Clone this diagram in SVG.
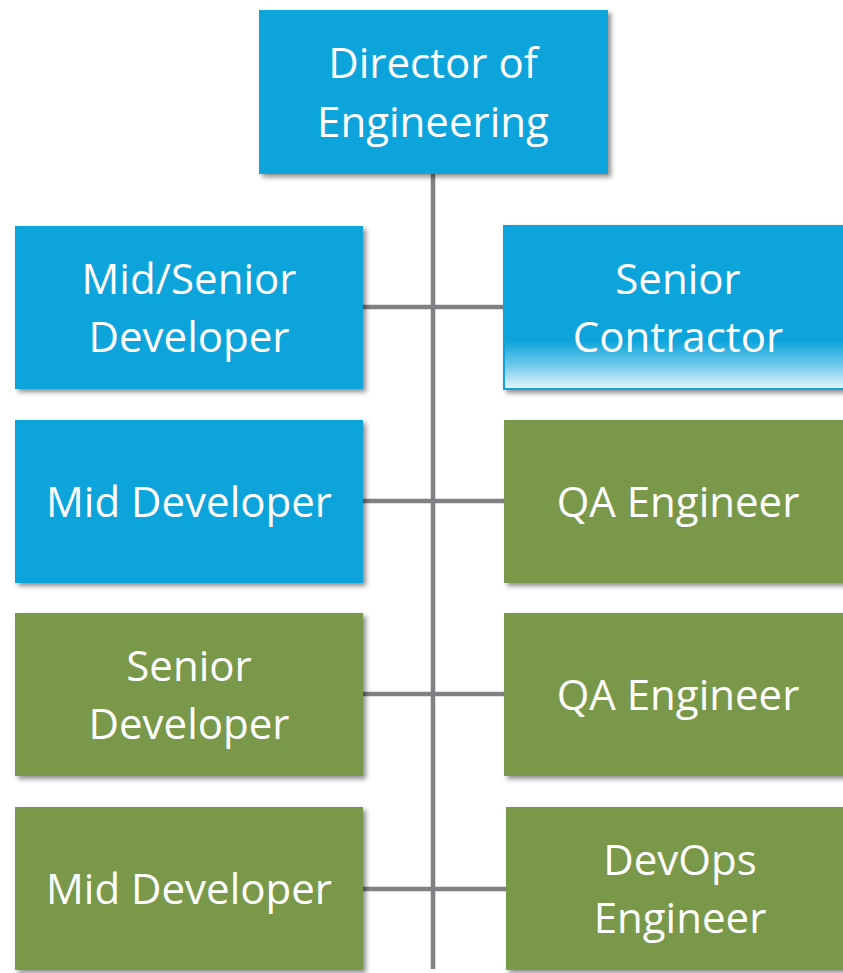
<svg xmlns="http://www.w3.org/2000/svg" width="843" height="973" viewBox="0 0 843 973">
  <style>
    .blue { fill: #0AA3DB; }
    .green { fill: #7A9849; }
    .box { filter: url(#shadow); }
    .label { font-family: "Open Sans", "Noto Sans", sans-serif; font-size: 42px; fill: #FFFFFF; text-anchor: middle; }
    .conn { stroke: #808085; stroke-width: 4.5; fill: none; }
  </style>
  <defs>
    <filter id="shadow" x="-10%" y="-10%" width="125%" height="130%">
      <feDropShadow dx="3" dy="3" stdDeviation="2.5" flood-color="#000000" flood-opacity="0.45"/>
    </filter>
    <linearGradient id="fade" x1="0" y1="0" x2="0" y2="1">
      <stop offset="0" stop-color="#0AA3DB"/>
      <stop offset="0.7" stop-color="#0AA3DB"/>
      <stop offset="0.85" stop-color="#6CC8EB"/>
      <stop offset="1" stop-color="#E6F6FC"/>
    </linearGradient>
  </defs>

  <rect width="843" height="973" fill="#FFFFFF"/>

  <!-- connectors -->
  <g id="connectors">
    <line class="conn" x1="433" y1="174" x2="433" y2="969"/>
    <line class="conn" x1="363" y1="307" x2="504" y2="307"/>
    <line class="conn" x1="363" y1="501" x2="504" y2="501"/>
    <line class="conn" x1="363" y1="694" x2="504" y2="694"/>
    <line class="conn" x1="363" y1="889" x2="506" y2="889"/>
  </g>

  <g id="director">
    <rect class="box blue" x="259" y="10" width="349" height="164"/>
    <text class="label" x="433" y="78">Director of</text>
    <text class="label" x="433" y="137">Engineering</text>
  </g>

  <g id="mid-senior-developer">
    <rect class="box blue" x="15" y="226" width="348" height="163"/>
    <text class="label" x="189" y="294">Mid/Senior</text>
    <text class="label" x="189" y="352">Developer</text>
  </g>

  <g id="senior-contractor">
    <rect class="box" x="504" y="226" width="349" height="163" fill="url(#fade)" stroke="#0AA3DB" stroke-width="2"/>
    <text class="label" x="678" y="294">Senior</text>
    <text class="label" x="678" y="352">Contractor</text>
  </g>

  <g id="mid-developer-1">
    <rect class="box blue" x="15" y="420" width="348" height="163"/>
    <text class="label" x="189" y="517">Mid Developer</text>
  </g>

  <g id="qa-engineer-1">
    <rect class="box green" x="504" y="420" width="349" height="163"/>
    <text class="label" x="678" y="517">QA Engineer</text>
  </g>

  <g id="senior-developer">
    <rect class="box green" x="15" y="613" width="348" height="163"/>
    <text class="label" x="189" y="681">Senior</text>
    <text class="label" x="189" y="739">Developer</text>
  </g>

  <g id="qa-engineer-2">
    <rect class="box green" x="504" y="613" width="349" height="163"/>
    <text class="label" x="678" y="710">QA Engineer</text>
  </g>

  <g id="mid-developer-2">
    <rect class="box green" x="15" y="807" width="348" height="163"/>
    <text class="label" x="189" y="904">Mid Developer</text>
  </g>

  <g id="devops-engineer">
    <rect class="box green" x="506" y="807" width="349" height="163"/>
    <text class="label" x="680" y="875">DevOps</text>
    <text class="label" x="680" y="933">Engineer</text>
  </g>
</svg>
